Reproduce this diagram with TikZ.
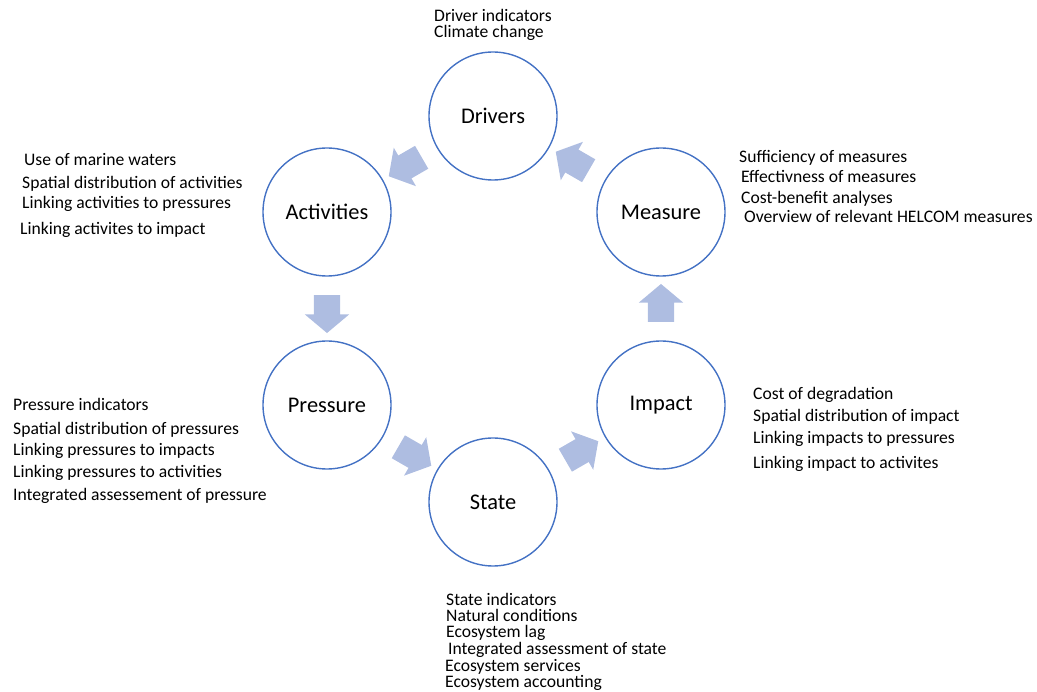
\documentclass[tikz,border=0pt]{standalone}
\usepackage{fontspec}
\setmainfont{Carlito}
\usetikzlibrary{shapes.arrows,calc}

\definecolor{ringblue}{RGB}{68,114,196}
\definecolor{arrowfill}{RGB}{174,189,225}

\tikzset{
  stage/.style={draw=ringblue, line width=1.4pt, circle, minimum size=128pt,
    inner sep=0pt, font=\fontsize{22.4}{26}\selectfont},
  flow/.style={single arrow, fill=arrowfill, draw=none, minimum height=38pt,
    inner xsep=0pt, inner ysep=13pt, single arrow head extend=9pt,
    single arrow tip angle=100},
  note/.style={anchor=west, inner sep=0pt, text height=11pt, text depth=0pt,
    font=\fontsize{17.6}{20}\selectfont}
}

\begin{document}
\begin{tikzpicture}[x=1pt, y=-1pt]
    \useasboundingbox (0,0) rectangle (1037,692);

    % Kreislauf der Stufen
    \node[stage] (drivers)    at (493,116) {Drivers};
    \node[stage] (activities) at (327,212) {Activities};
    \node[stage] (measure)    at (661,212) {Measure};
    \node[stage] (pressure)   at (327,405) {Pressure};
    \node[stage] (impact)     at (661,405) {Impact};
    \node[stage] (state)      at (493,502) {State};

    % Blockpfeile zwischen den Stufen
    \node[flow, rotate=210] (f1) at ($(drivers)!0.5!(activities)$) {};
    \node[flow, rotate=270] (f2) at ($(activities)!0.5!(pressure)$) {};
    \node[flow, rotate=330] (f3) at ($(pressure)!0.5!(state)$) {};
    \node[flow, rotate=30]  (f4) at ($(state)!0.5!(impact)$) {};
    \node[flow, rotate=90]  (f5) at ($(impact)!0.5!(measure)$) {};
    \node[flow, rotate=150] (f6) at ($(measure)!0.5!(drivers)$) {};

    % Stichpunkte
    \foreach \x/\y/\t [count=\i] in {434/16/Driver indicators, 434/32/Climate change}
        \node[note] (dn\i) at (\x,\y) {\t};
    \foreach \x/\y/\t [count=\i] in {24/160/Use of marine waters,
        22/183/Spatial distribution of activities,
        22/203/Linking activities to pressures,
        20/229/Linking activites to impact}
        \node[note] (an\i) at (\x,\y) {\t};
    \foreach \x/\y/\t [count=\i] in {739/157/Sufficiency of measures,
        741/177/Effectivness of measures,
        741/198/Cost-benefit analyses,
        744/217/Overview of relevant HELCOM measures}
        \node[note] (mn\i) at (\x,\y) {\t};
    \foreach \x/\y/\t [count=\i] in {13/405/Pressure indicators,
        13/429/Spatial distribution of pressures,
        13/450/Linking pressures to impacts,
        13/472/Linking pressures to activities,
        13/495/Integrated assessement of pressure}
        \node[note] (pn\i) at (\x,\y) {\t};
    \foreach \x/\y/\t [count=\i] in {753/394/Cost of degradation,
        753/416/Spatial distribution of impact,
        753/438/Linking impacts to pressures,
        753/463/Linking impact to activites}
        \node[note] (in\i) at (\x,\y) {\t};
    \foreach \x/\y/\t [count=\i] in {446/600/State indicators,
        446/616/Natural conditions,
        446/632/Ecosystem lag,
        448/649/Integrated assessment of state,
        445/666/Ecosystem services,
        445/682/Ecosystem accounting}
        \node[note] (sn\i) at (\x,\y) {\t};
\end{tikzpicture}
\end{document}
